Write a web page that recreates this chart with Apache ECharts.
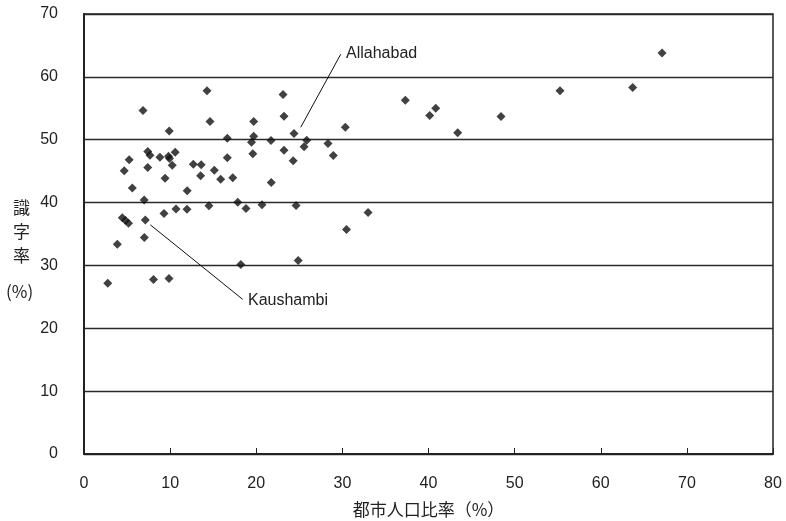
<!DOCTYPE html>
<html>
<head>
<meta charset="utf-8">
<script src="https://cdn.jsdelivr.net/npm/echarts@6/dist/echarts.min.js"></script>
<style>
  html, body { margin: 0; padding: 0; background: #fff; }
  #chart { width: 786px; height: 521px; }
</style>
</head>
<body>
<div id="chart"></div>
<script>
// 都市人口比率（%）
const urbanRate = [
  6.85, 14.28, 23.11, 14.63, 19.7, 23.22, 9.9, 16.64, 19.7, 19.45,
  21.71, 24.38, 25.86, 25.55, 7.4, 7.66, 5.25, 8.82, 9.81, 9.93,
  10.59, 4.67, 7.4, 10.25, 12.69, 13.61, 16.64, 19.6, 23.22, 24.29,
  13.54, 15.13, 9.41, 15.87, 17.27, 21.74, 5.61, 11.98, 6.99, 14.51,
  17.85, 18.81, 20.67, 24.62, 10.68, 11.96, 9.29, 4.45, 4.82, 5.17,
  7.12, 7.0, 3.87, 18.21, 24.87, 2.76, 8.07, 9.87, 28.33, 28.95,
  30.34, 37.31, 40.14, 40.84, 43.39, 48.42, 32.98, 30.48, 67.12, 55.27,
  63.71
];
// 識字率（%）
const literacy = [
  54.65, 57.77, 57.2, 52.9, 52.9, 53.75, 51.4, 50.24, 50.56, 49.6,
  49.88, 51.0, 49.93, 48.9, 48.13, 47.54, 46.8, 47.2, 47.38, 47.02,
  48.0, 45.08, 45.59, 45.92, 46.11, 46.03, 47.15, 47.78, 48.34, 46.64,
  44.28, 45.16, 43.85, 43.7, 43.93, 43.2, 42.3, 41.9, 40.42, 39.51,
  40.07, 39.04, 39.64, 39.55, 38.96, 38.93, 38.27, 37.6, 37.13, 36.73,
  37.24, 34.43, 33.36, 30.16, 30.8, 27.16, 27.78, 27.94, 49.4, 47.5,
  52.0, 56.29, 53.86, 55.02, 51.09, 53.7, 38.43, 35.73, 63.81, 57.77,
  58.31
];
// leader lines for the two named districts: [from, to] in data units
const allahabadLine = [[25.16, 51.97], [29.81, 63.6]];
const kaushambiLine = [[7.7, 36.46], [18.43, 24.6]];

const font = "'Liberation Sans', Arial, 'Noto Sans CJK JP', sans-serif";
const cjkFont = "'Noto Sans CJK JP', sans-serif";

const chart = echarts.init(document.getElementById("chart"));

chart.setOption({
  animation: false,
  backgroundColor: "#fff",
  grid: {
    left: 84, right: 13, top: 14, bottom: 67,
    outerBoundsMode: "none",
    show: true, borderColor: "#222", borderWidth: 1.5
  },
  xAxis: {
    type: "value",
    min: 0, max: 80, interval: 10,
    name: "都市人口比率（%）",
    nameLocation: "middle",
    nameGap: 47,
    nameTextStyle: { fontFamily: cjkFont, fontSize: 17, color: "#222" },
    axisLine: { show: true, onZero: false, lineStyle: { color: "#222", width: 2 } },
    axisTick: { show: true, inside: true, length: 6, lineStyle: { color: "#222", width: 1 } },
    axisLabel: { margin: 22, fontFamily: font, fontSize: 16, color: "#222" },
    splitLine: { show: false }
  },
  yAxis: {
    type: "value",
    min: 0, max: 70, interval: 10,
    axisLine: { show: true, onZero: false, lineStyle: { color: "#222", width: 2 } },
    axisTick: { show: false },
    axisLabel: { margin: 26, fontFamily: font, fontSize: 16, color: "#222" },
    splitLine: { show: true, lineStyle: { color: "#2a2a2a", width: 1.3 } }
  },
  series: [
    {
      type: "scatter",
      symbol: "diamond",
      symbolSize: 9,
      itemStyle: { color: "#111" },
      data: urbanRate.map((x, i) => [x, literacy[i]]),
      markLine: {
        silent: true,
        symbol: "none",
        label: { show: false },
        lineStyle: { color: "#111", width: 1, type: "solid" },
        data: [
          [{ coord: allahabadLine[0] }, { coord: allahabadLine[1] }],
          [{ coord: kaushambiLine[0] }, { coord: kaushambiLine[1] }]
        ]
      }
    }
  ],
  graphic: [
    { type: "text", left: 346, top: 46, style: { text: "Allahabad", font: "16px " + font, fill: "#222" } },
    { type: "text", left: 248, top: 293, style: { text: "Kaushambi", font: "16px " + font, fill: "#222" } },
    { type: "text", left: 13, top: 199, style: { text: "識", font: "17px " + cjkFont, fill: "#222" } },
    { type: "text", left: 13, top: 223, style: { text: "字", font: "17px " + cjkFont, fill: "#222" } },
    { type: "text", left: 13, top: 247, style: { text: "率", font: "17px " + cjkFont, fill: "#222" } },
    { type: "text", left: 6, top: 283, style: { text: "(%)", font: "17px " + cjkFont, fill: "#222" } }
  ]
});
</script>
</body>
</html>
